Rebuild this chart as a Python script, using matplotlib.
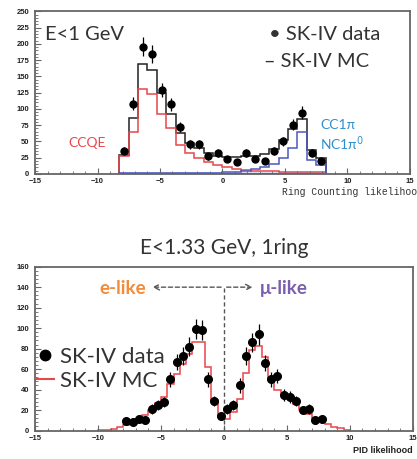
import matplotlib
matplotlib.use("Agg")
import matplotlib.pyplot as plt
import matplotlib.ticker as mticker
from matplotlib.lines import Line2D
import numpy as np

# ---- top panel: ring counting likelihood, E<1 GeV (0.75-wide bins, -8.25..8.25)
rc_data = [36, 108, 196, 185, 129, 107, 72, 46, 46, 27, 32, 23, 19, 32, 23, 20, 35, 50, 76, 94, 32, 20]
rc_err = [6, 10, 14, 14, 11, 10, 8, 7, 7, 5, 6, 5, 4, 6, 5, 4, 6, 7, 9, 10, 6, 4]
rc_mc = [29, 86, 169, 160, 124, 93, 63, 48, 40, 32, 28, 26, 26, 28, 28, 30, 38, 52, 69, 84, 37, 24]
rc_ccqe = [27, 64, 131, 123, 93, 71, 45, 33, 24, 19, 14, 10, 8, 6, 5, 4, 4, 3, 3, 3, 3, 3]
rc_cc1pi = [1, 1, 1, 1, 1, 1, 1, 1, 1, 1, 2, 3, 3, 4, 7, 11, 16, 24, 40, 64, 21, 14]

# ---- bottom panel: PID likelihood, E<1.33 GeV 1ring (0.5-wide bins)
pid_data = [9.5, 8, 11, 10, 21, 25, 28, 50, 67, 73, 82, 99, 98, 50, 29, 14,
            21, 25, 44, 73, 86, 94, 66, 50, 53, 35, 33, 29, 20, 21, 10, 11]
pid_err = [3, 3, 3, 3, 5, 5, 5, 7, 8, 9, 9, 10, 10, 7, 5, 4,
           5, 5, 7, 9, 9, 10, 8, 7, 7, 6, 6, 5, 4, 5, 3, 3]
pid_mc = [0.5, 1, 1.5, 3, 5, 8, 11, 15, 20, 27, 33, 45, 55, 65, 75, 86, 86, 62, 30, 15,
          11, 18, 31, 56, 79, 83, 72, 51, 40, 35, 31, 26, 20, 16, 12, 9, 6, 3, 2, 1]

rc_edges = np.linspace(-8.25, 8.25, len(rc_mc) + 1)
rc_x = 0.5 * (rc_edges[:-1] + rc_edges[1:])
pid_data_edges = np.linspace(-8, 8, len(pid_data) + 1)
pid_x = 0.5 * (pid_data_edges[:-1] + pid_data_edges[1:])
pid_mc_edges = np.linspace(-10, 10, len(pid_mc) + 1)

RED = "#e8474a"
FRAME = "#666666"
TEXT = "#333333"
plt.rcParams["font.family"] = ["Lato", "DejaVu Sans"]

fig = plt.figure(figsize=(4.17, 4.59), dpi=100)
ax1 = fig.add_axes([0.084, 0.621, 0.899, 0.354])
ax2 = fig.add_axes([0.084, 0.062, 0.906, 0.357])


def style_axes(ax, ymax, ystep, yminor):
    ax.set_xlim(-15, 15)
    ax.set_ylim(0, ymax)
    ax.xaxis.set_major_locator(mticker.MultipleLocator(5))
    ax.xaxis.set_minor_locator(mticker.MultipleLocator(1))
    ax.yaxis.set_major_locator(mticker.MultipleLocator(ystep))
    ax.yaxis.set_minor_locator(mticker.MultipleLocator(yminor))
    ax.tick_params(which="both", direction="in", colors=FRAME, labelcolor="#222222")
    ax.tick_params(which="major", length=4, width=0.8, labelsize=5.5)
    ax.tick_params(axis="x", which="major", pad=3)
    ax.tick_params(axis="y", which="major", pad=4)
    ax.tick_params(which="minor", length=2, width=0.6)
    for lab in ax.get_xticklabels() + ax.get_yticklabels():
        lab.set_fontweight("bold")
        lab.set_family("Liberation Sans")
    for sp in ax.spines.values():
        sp.set_color(FRAME)
        sp.set_linewidth(1.3)


# top panel
style_axes(ax1, 250, 25, 5)
ax1.stairs(rc_mc, rc_edges, color="#222222", lw=1.1)
ax1.stairs(rc_ccqe, rc_edges, color=RED, lw=1.1)
ax1.stairs(rc_cc1pi, rc_edges, color="#4a58c0", lw=1.1)
ax1.axhline(0.8, xmin=(-8.25 + 15) / 30, xmax=(8.25 + 15) / 30, color="#4a58c0", lw=1.0)
ax1.errorbar(rc_x, rc_data, yerr=rc_err, fmt="o", ms=5, color="black",
             elinewidth=0.9, capsize=0, zorder=5)

ax1.text(0.027, 0.856, "E<1 GeV", transform=ax1.transAxes, fontsize=14.5,
         color=TEXT, va="center")
ax1.text(0.625, 0.856, "• SK-IV data", transform=ax1.transAxes, fontsize=14.5,
         color=TEXT, va="center")
ax1.text(0.61, 0.69, "– SK-IV MC", transform=ax1.transAxes, fontsize=14.5,
         color=TEXT, va="center")
ax1.text(-12.3, 48, "CCQE", color=RED, fontsize=10, va="center")
ax1.text(7.8, 75, "CC1π", color="#2f8fce", fontsize=10, va="center")
ax1.text(7.8, 46, "NC1π$^0$", color="#2f8fce", fontsize=10, va="center")
ax1.text(0.658, -0.11, "Ring Counting likelihood", transform=ax1.transAxes,
         family="Liberation Mono", fontsize=7, color="#333333", va="center",
         ha="left", clip_on=False)

# bottom panel
style_axes(ax2, 160, 20, 4)
ax2.stairs(pid_mc, pid_mc_edges, color=RED, lw=1.1)
ax2.errorbar(pid_x, pid_data, yerr=pid_err, fmt="o", ms=5.5, color="black",
             elinewidth=0.9, capsize=0, zorder=5)
ax2.plot([0, 0], [0, 139], ls=(0, (3, 2)), color="#555555", lw=1.0)
ax2.annotate("", xy=(-5.9, 140), xytext=(0, 140),
             arrowprops=dict(arrowstyle="->", ls=(0, (3, 2)), color="#555555", lw=1.0))
ax2.annotate("", xy=(2.5, 140), xytext=(0, 140),
             arrowprops=dict(arrowstyle="->", ls=(0, (3, 2)), color="#555555", lw=1.0))
ax2.text(-6.2, 139, "e-like", color="#f08c3c", fontsize=13.5, fontweight="bold",
         ha="right", va="center")
ax2.text(2.85, 139, "μ-like", color="#7a5fb0", fontsize=13.5, fontweight="bold",
         ha="left", va="center")
ax2.set_title("E<1.33 GeV, 1ring", fontsize=15, color=TEXT, pad=9)
ax2.text(1.0, -0.12, "PID likelihood", transform=ax2.transAxes, fontsize=6.5,
         fontweight="bold", family="Liberation Sans", color="#222222",
         ha="right", va="center")

handles = [Line2D([], [], marker="o", ls="none", color="black", ms=7.5),
           Line2D([], [], color=RED, lw=1.5)]
ax2.legend(handles, ["SK-IV data", "SK-IV MC"], loc="center left",
           bbox_to_anchor=(0.005, 0.376), frameon=False, fontsize=16,
           borderaxespad=0, borderpad=0,
           handlelength=0.75, handletextpad=0.3, labelspacing=0.15, labelcolor=TEXT)

fig.savefig("out.png", dpi=100)
